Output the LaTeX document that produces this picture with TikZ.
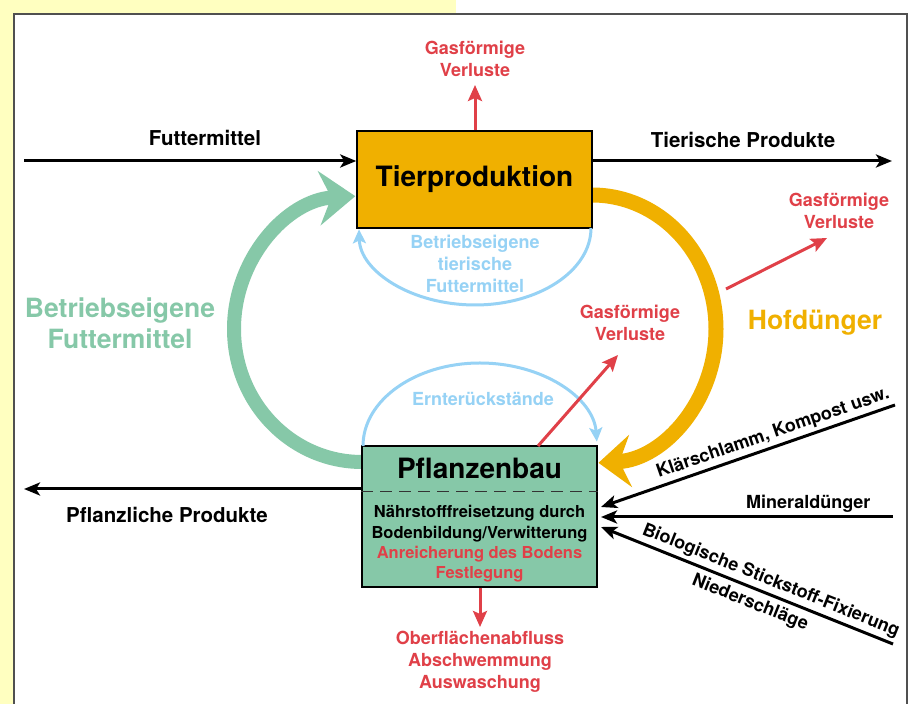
\documentclass[tikz,border=0pt]{standalone}
\usepackage{fontspec}
\setmainfont{TeX Gyre Heros}
\usetikzlibrary{arrows.meta,calc}
\definecolor{bgyellow}{RGB}{255,255,192}
\definecolor{redl}{RGB}{224,64,72}
\definecolor{blueb}{RGB}{150,210,245}
\definecolor{greenb}{RGB}{134,200,168}
\definecolor{orangeb}{RGB}{240,176,0}
\definecolor{frame}{RGB}{80,80,80}
\begin{document}
\begin{tikzpicture}[x=1pt,y=1pt,
  biglbl/.style={font=\bfseries\fontsize{20.5}{24}\selectfont, inner sep=0pt},
  sml/.style={font=\bfseries\fontsize{18}{22}\selectfont, align=center, inner sep=0pt},
  huge/.style={font=\bfseries\fontsize{26.5}{31}\selectfont, align=center, inner sep=0pt},
  boxtitle/.style={font=\bfseries\fontsize{28}{32}\selectfont, inner sep=0pt},
  blk/.style={line width=3pt, -{Stealth[length=16pt,width=13pt,inset=4pt]}},
  blkrev/.style={line width=3pt, {Stealth[length=16pt,width=13pt,inset=4pt]}-},
  redarr/.style={redl, line width=3pt, -{Stealth[length=16pt,width=14pt,inset=3pt]}},
  bluearr/.style={blueb, line width=3pt, -{Stealth[length=14pt,width=13pt,inset=3pt]}},
]
\useasboundingbox (0,0) rectangle (914,704);
\fill[bgyellow] (0,0) rectangle (456,704);
\filldraw[fill=white, draw=frame, line width=1.6pt] (14,-10) rectangle (907,690);

% big loop arcs (behind boxes)
\draw[greenb, line width=14pt, -{Stealth[length=36pt,width=54pt,inset=12pt]}]
  (362,242) arc[start angle=-90, end angle=-267, x radius=128, y radius=133];
\draw[orangeb, line width=15pt, -{Stealth[length=32pt,width=52pt,inset=11pt]}]
  (592,509) arc[start angle=90, end angle=-87, x radius=124, y radius=134];

% boxes
\node[draw=black, line width=1.5pt, fill=orangeb, minimum width=235pt, minimum height=97pt,
  inner sep=0pt, boxtitle] (tp) at (474.5,524.5) {Tierproduktion};
\node[draw=black, line width=1.2pt, fill=greenb, minimum width=235pt, minimum height=141pt,
  inner sep=0pt] (pb) at (479.5,187.5) {};
\coordinate (dl) at (0,212);
\draw[black!80, line width=1pt, dash pattern=on 12pt off 7pt] (pb.west |- dl) -- (pb.east |- dl);
\node[boxtitle] (pbt) at (479.5,236) {Pflanzenbau};
\node[font=\bfseries\fontsize{16.5}{20.4}\selectfont, align=center, inner sep=0pt] (pbx) at (479.5,160)
  {Nährstofffreisetzung durch\\Bodenbildung/Verwitterung\\\textcolor{redl}{Anreicherung des Bodens}\\\textcolor{redl}{Festlegung}};

% blue inner arcs
\draw[bluearr] (591,476) arc[start angle=0, end angle=-179, x radius=116, y radius=77];
\draw[bluearr] (363,258) arc[start angle=180, end angle=3, x radius=117, y radius=83];
\node[sml, blueb] (btf) at (475,440) {Betriebseigene\\tierische\\Futtermittel};
\node[sml, blueb] (ern) at (483,305) {Ernterückstände};

% horizontal black arrows
\coordinate (fin) at (24,543);
\draw[blk] (fin) -- (fin -| tp.west);
\coordinate (tout) at (892,543);
\draw[blk] (tout -| tp.east) -- (tout);
\coordinate (pout) at (24,215);
\draw[blk] (pout -| pb.west) -- (pout);
\node[biglbl] (lfm) at (205,566) {Futtermittel};
\node[biglbl] (ltp) at (743,564) {Tierische Produkte};
\node[biglbl] (lpp) at (167,189) {Pflanzliche Produkte};

% red arrows
\coordinate (g1) at (475,619);
\draw[redarr] (g1 |- tp.north) -- (g1);
\node[sml, redl] (gl1) at (475,645) {Gasförmige\\Verluste};
\coordinate (g2s) at (726,415);
\coordinate (g2) at (827,466);
\draw[redarr] (g2s) -- (g2);
\node[sml, redl] (gl2) at (839,493) {Gasförmige\\Verluste};
\coordinate (g3s) at (538,258);
\coordinate (g3) at (618,349);
\draw[redarr] (g3s) -- (g3);
\node[sml, redl] (gl3) at (630,381) {Gasförmige\\Verluste};
\coordinate (g4) at (480,77);
\draw[redarr] (g4 |- pb.south) -- (g4);
\node[sml, redl] (gl4) at (480,42) {Oberflächenabfluss\\Abschwemmung\\Auswaschung};

% big labels
\node[huge, greenb] (lbf) at (120,381) {Betriebseigene\\Futtermittel};
\node[huge, orangeb] (lhd) at (815,381) {Hofdünger};

% side input arrows
\coordinate (k1) at (601,197);
\coordinate (k0) at (895,299);
\draw[blkrev] (k1) -- node[pos=0.6, sloped, above=3pt, sml] {Klärschlamm, Kompost usw.} (k0);
\coordinate (m1) at (601,187);
\coordinate (m0) at (893,187);
\draw[blkrev] (m1) -- node[pos=0.71, above=3pt, sml] {Mineraldünger} (m0);
\coordinate (b1) at (601,177);
\coordinate (b0) at (893,60);
\draw[blkrev] (b1) -- node[pos=0.565, sloped, above=3pt, sml] {Biologische Stickstoff-Fixierung}
  node[pos=0.53, sloped, below=5pt, sml] {Niederschläge} (b0);
\end{tikzpicture}
\end{document}
